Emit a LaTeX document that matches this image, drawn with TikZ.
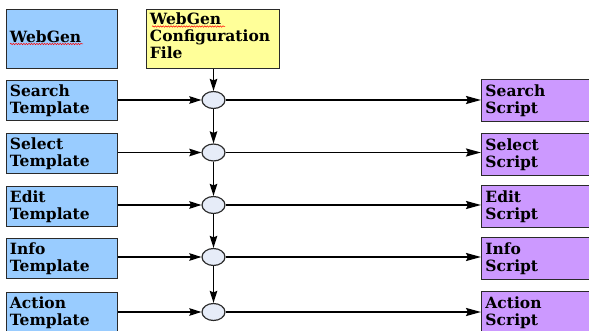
\documentclass[tikz,border=0pt]{standalone}
\usepackage{fontspec}
\setmainfont{DejaVu Serif}
\usetikzlibrary{arrows.meta,shapes.geometric,decorations.pathmorphing}
\definecolor{tblue}{HTML}{99CCFF}
\definecolor{tyellow}{HTML}{FFFF99}
\definecolor{tpurple}{HTML}{CC99FF}
\definecolor{tcirc}{HTML}{E6ECF8}
\definecolor{tborder}{HTML}{2A2A2A}
\begin{document}
\begin{tikzpicture}[x=1pt,y=-1pt,
  box/.style={draw=tborder, line width=0.9pt, anchor=north west, inner sep=3pt,
    align=left, font=\fontsize{15.5}{17}\selectfont\bfseries},
  tmpl/.style={box, fill=tblue, minimum width=111pt, minimum height=40pt, text width=104pt},
  scr/.style={box, fill=tpurple, minimum width=112pt, minimum height=42pt, text width=104pt},
  junc/.style={ellipse, draw=tborder, line width=1.2pt, fill=tcirc, minimum width=23pt, minimum height=17pt, inner sep=0pt},
  arr/.style={line width=1.5pt, -{Stealth[length=12pt,width=7.5pt,inset=1.5pt]}},
  arrlong/.style={line width=1.8pt, -{Stealth[length=15pt,width=8pt,inset=2pt]}},
  spell/.style={red, line width=0.5pt, decorate, decoration={snake, amplitude=0.7pt, segment length=2.6pt}}
]
\useasboundingbox (0,0) rectangle (589,331);
% top boxes
\node[box, fill=tblue, minimum width=111pt, minimum height=59pt, text width=104pt] (wg) at (6,9) {WebGen\rule[-5pt]{0pt}{0pt}};
\node[box, fill=tyellow, minimum width=133pt, minimum height=59pt, text width=126pt] (cfg) at (146,9) {WebGen\\Configuration\\File\rule[-6pt]{0pt}{0pt}};
% templates
\node[tmpl] (t1) at (6,80) {Search\\Template};
\node[tmpl] (t2) at (6,133) {Select\\Template};
\node[tmpl] (t3) at (6,186) {Edit\\Template};
\node[tmpl] (t4) at (6,238) {Info\\Template};
\node[tmpl] (t5) at (6,292) {Action\\Template};
% junctions
\node[junc] (c1) at (213.5,100) {};
\node[junc] (c2) at (213.5,152.5) {};
\node[junc] (c3) at (213.5,205) {};
\node[junc] (c4) at (213.5,257) {};
\node[junc] (c5) at (213.5,312) {};
% scripts
\node[scr] (s1) at (481,79) {Search\\Script};
\node[scr] (s2) at (481,133) {Select\\Script};
\node[scr] (s3) at (481,185) {Edit\\Script};
\node[scr] (s4) at (481,237) {Info\\Script};
\node[scr] (s5) at (481,291) {Action\\Script};
% vertical chain
\draw[arr] (cfg.south -| c1) -- (c1.north);
\draw[arr] (c1.south) -- (c2.north);
\draw[arr] (c2.south) -- (c3.north);
\draw[arr] (c3.south) -- (c4.north);
\draw[arr] (c4.south) -- (c5.north);
% template to junction, junction to script
\foreach \i in {1,...,5}{
  \draw[arr] (t\i.east |- c\i) -- (c\i.west);
  \draw[arrlong] (c\i.east) -- (s\i.west |- c\i);
}
% spell-check underlines
\draw[spell] (10,44) -- (83,44);
\draw[spell] (152,26.5) -- (225,26.5);
\end{tikzpicture}
\end{document}
